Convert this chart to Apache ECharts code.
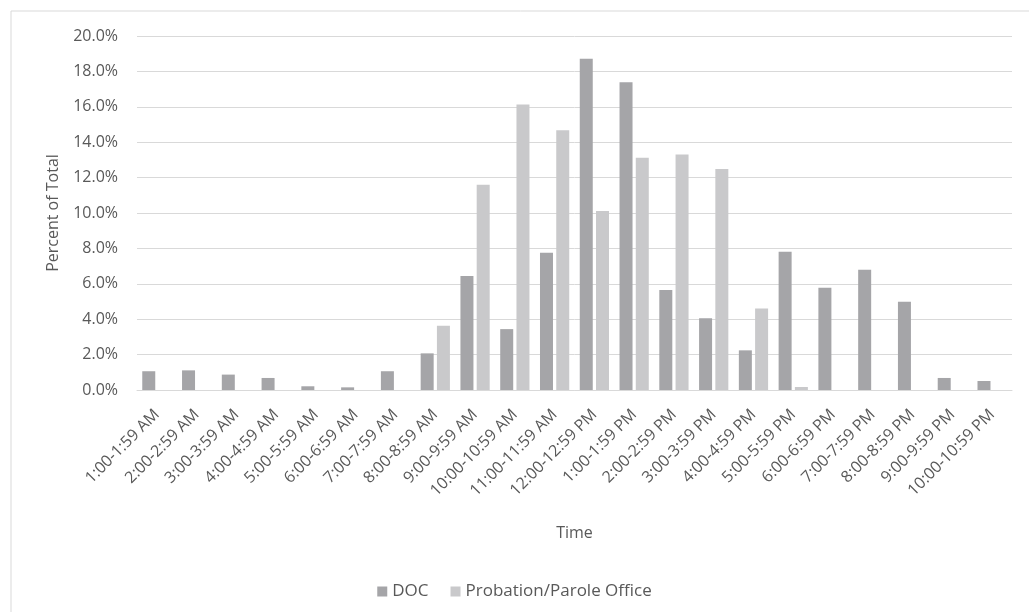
<!DOCTYPE html>
<html>
<head>
<meta charset="utf-8">
<style>
  html, body { margin: 0; padding: 0; background: #fff; }
  #chart { width: 1029px; height: 612px; }
</style>
<script src="https://cdn.jsdelivr.net/npm/echarts@6/dist/echarts.min.js"></script>
</head>
<body>
<div id="chart"></div>
<script>
const categories = [
  '1:00-1:59 AM', '2:00-2:59 AM', '3:00-3:59 AM', '4:00-4:59 AM', '5:00-5:59 AM',
  '6:00-6:59 AM', '7:00-7:59 AM', '8:00-8:59 AM', '9:00-9:59 AM', '10:00-10:59 AM',
  '11:00-11:59 AM', '12:00-12:59 PM', '1:00-1:59 PM', '2:00-2:59 PM', '3:00-3:59 PM',
  '4:00-4:59 PM', '5:00-5:59 PM', '6:00-6:59 PM', '7:00-7:59 PM', '8:00-8:59 PM',
  '9:00-9:59 PM', '10:00-10:59 PM'
]
const docValues = [
  1.06, 1.11, 0.87, 0.68, 0.21, 0.15, 1.06, 2.07, 6.44, 3.44, 7.75,
  18.71, 17.39, 5.65, 4.05, 2.24, 7.81, 5.78, 6.79, 4.99, 0.68, 0.51
]
const probationValues = [
  0, 0, 0, 0, 0, 0, 0, 3.63, 11.6, 16.13, 14.68,
  10.12, 13.12, 13.3, 12.48, 4.61, 0.17, 0, 0, 0, 0, 0
]
const seriesNames = ['DOC', 'Probation/Parole Office']

const FONT = 'Open Sans'
const TEXT_COLOR = '#595959'
const GRID_COLOR = '#d9d9d9'

const chart = echarts.init(document.getElementById('chart'))

chart.setOption({
  animation: false,
  textStyle: { fontFamily: FONT },
  graphic: [{
    type: 'rect',
    shape: { x: 11, y: 11, width: 1040, height: 620 },
    style: { fill: 'none', stroke: '#d9d9d9', lineWidth: 1 },
    silent: true
  }],
  grid: { left: 137, right: 17, top: 36, bottom: 222 },
  legend: {
    top: 578,
    left: 'center',
    itemWidth: 10,
    itemHeight: 10,
    itemGap: 22,
    icon: 'rect',
    textStyle: { color: TEXT_COLOR, fontSize: 17, fontFamily: FONT },
    data: seriesNames
  },
  xAxis: {
    type: 'category',
    data: categories,
    name: 'Time',
    nameLocation: 'middle',
    nameGap: 135,
    nameTextStyle: { color: TEXT_COLOR, fontSize: 16, fontFamily: FONT },
    axisLine: { lineStyle: { color: GRID_COLOR } },
    axisTick: { show: false },
    axisLabel: {
      rotate: 45,
      interval: 0,
      margin: 22,
      color: TEXT_COLOR,
      fontSize: 16,
      fontFamily: FONT
    }
  },
  yAxis: {
    type: 'value',
    min: 0,
    max: 20,
    interval: 2,
    name: 'Percent of Total',
    nameLocation: 'middle',
    nameGap: 76,
    nameTextStyle: { color: TEXT_COLOR, fontSize: 16, fontFamily: FONT },
    axisLine: { show: false },
    axisTick: { show: false },
    axisLabel: {
      color: TEXT_COLOR,
      fontSize: 16,
      fontFamily: FONT,
      margin: 19,
      formatter: v => v.toFixed(1) + '%'
    },
    splitLine: { lineStyle: { color: GRID_COLOR, width: 1 } }
  },
  series: [
    {
      name: seriesNames[0],
      type: 'bar',
      data: docValues,
      barWidth: 13,
      barGap: '25%',
      itemStyle: { color: '#a5a5a8' }
    },
    {
      name: seriesNames[1],
      type: 'bar',
      data: probationValues,
      barWidth: 13,
      itemStyle: { color: '#c9c9cb' }
    }
  ]
})
</script>
</body>
</html>
